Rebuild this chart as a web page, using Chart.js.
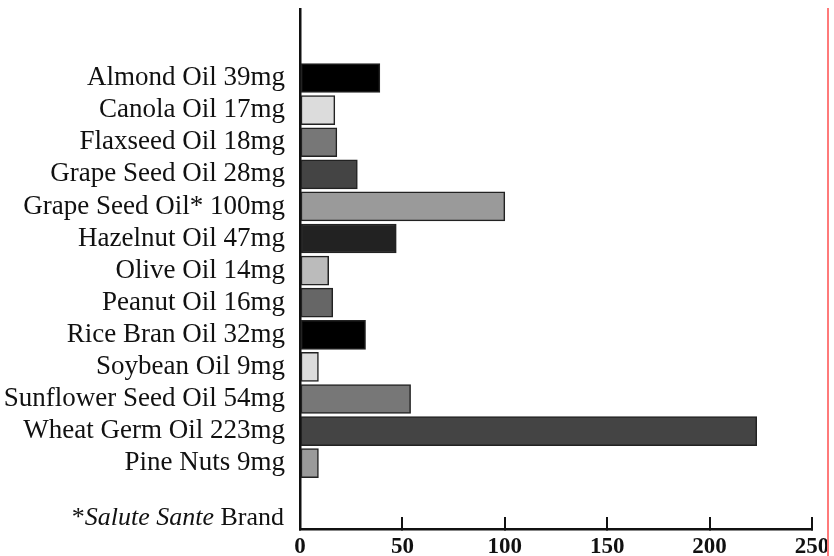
<!DOCTYPE html>
<html>
<head>
<meta charset="utf-8">
<script src="https://cdn.jsdelivr.net/npm/chart.js@4"></script>
<style>
  body { margin: 0; background: #fff; }
  #wrap { position: relative; width: 834px; height: 556px; }
  #footnote {
    position: absolute;
    right: 550px;
    top: 503px;
    font: 26px "Liberation Serif", "Times New Roman", serif;
    line-height: 28px;
    color: #111;
    white-space: nowrap;
  }
  #edge {
    position: absolute;
    left: 827px;
    top: 8px;
    width: 2px;
    height: 548px;
    background: #ff7a7a;
  }
</style>
</head>
<body>
<div id="wrap">
  <canvas id="vitamin-e-chart" width="834" height="556"></canvas>
  <div id="footnote">*<i>Salute Sante</i> Brand</div>
  <div id="edge"></div>
</div>
<script>
const OIL_LABELS = [
  "Almond Oil 39mg",
  "Canola Oil 17mg",
  "Flaxseed Oil 18mg",
  "Grape Seed Oil 28mg",
  "Grape Seed Oil* 100mg",
  "Hazelnut Oil 47mg",
  "Olive Oil 14mg",
  "Peanut Oil 16mg",
  "Rice Bran Oil 32mg",
  "Soybean Oil 9mg",
  "Sunflower Seed Oil 54mg",
  "Wheat Germ Oil 223mg",
  "Pine Nuts 9mg",
];
const OIL_VALUES = [39, 17, 18, 28, 100, 47, 14, 16, 32, 9, 54, 223, 9];
const BAR_COLORS = [
  "#000000", "#dcdcdc", "#777777", "#444444", "#9a9a9a", "#222222",
  "#bbbbbb", "#666666", "#000000", "#dcdcdc", "#777777", "#444444", "#9a9a9a",
];
const X_TICKS = [0, 50, 100, 150, 200, 250];

const SERIF = '"Liberation Serif", "Times New Roman", serif';

document.addEventListener("DOMContentLoaded", function () {
  const points = OIL_VALUES.map((value, i) => ({ x: value, y: i }));

  const ctx = document.getElementById("vitamin-e-chart").getContext("2d");
  new Chart(ctx, {
    type: "bar",
    data: {
      datasets: [
        {
          data: points,
          backgroundColor: BAR_COLORS,
          borderColor: "#222",
          borderWidth: 1.5,
          borderSkipped: false,
          barThickness: 29,
        },
      ],
    },
    options: {
      indexAxis: "y",
      responsive: false,
      animation: false,
      layout: { padding: { top: 9, right: 22, bottom: 0, left: 0 } },
      plugins: {
        legend: { display: false },
        tooltip: { enabled: false },
      },
      scales: {
        x: {
          type: "linear",
          min: X_TICKS[0],
          max: X_TICKS[X_TICKS.length - 1],
          afterBuildTicks: (scale) => {
            scale.ticks = X_TICKS.map((v) => ({ value: v }));
          },
          grid: {
            drawOnChartArea: false,
            drawTicks: true,
            tickLength: -12,
            color: "#111",
            lineWidth: 2,
          },
          border: { display: true, color: "#111", width: 2.5 },
          ticks: {
            color: "#111",
            padding: 16,
            maxRotation: 0,
            font: { family: SERIF, size: 23, weight: "bold" },
          },
          afterFit: (scale) => {
            scale.height = 27;
            scale.paddingLeft = 0;
            scale.paddingRight = 0;
          },
        },
        y: {
          type: "linear",
          reverse: true,
          offset: false,
          min: -2.15,
          max: 14.05,
          bounds: "data",
          afterBuildTicks: (scale) => {
            scale.ticks = OIL_LABELS.map((_, i) => ({ value: i }));
          },
          grid: { display: false, drawTicks: false },
          border: { display: true, color: "#111", width: 2.5 },
          ticks: {
            autoSkip: false,
            color: "#111",
            padding: 15,
            font: { family: SERIF, size: 27 },
            callback: (value) => OIL_LABELS[value],
          },
          afterFit: (scale) => {
            scale.width = 300;
            scale.paddingTop = 0;
            scale.paddingBottom = 0;
          },
        },
      },
    },
  });
});
</script>
</body>
</html>
